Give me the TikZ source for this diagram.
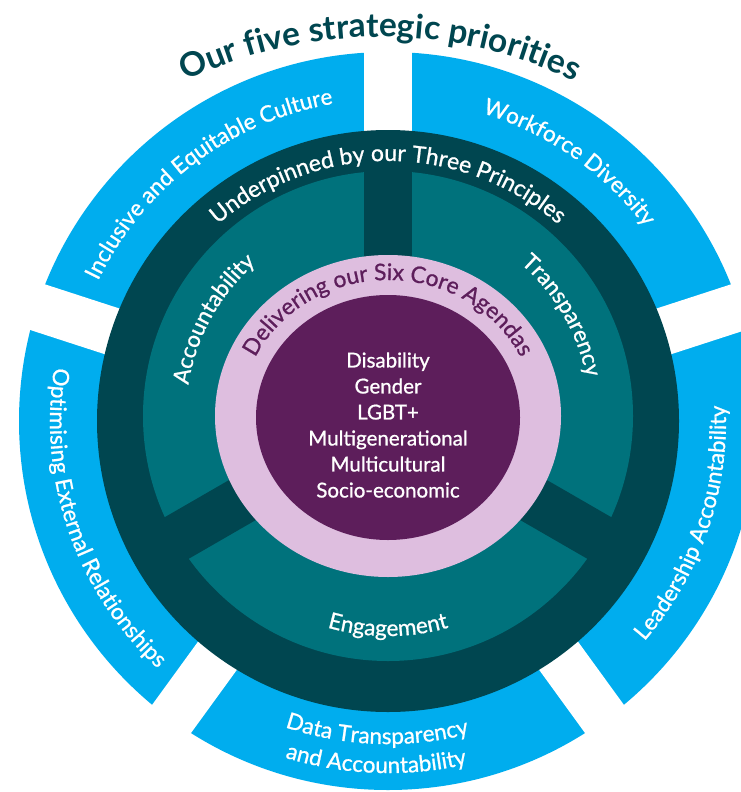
\documentclass[tikz,border=0pt]{standalone}
\usepackage{fontspec}
\setmainfont{Lato}
\newfontfamily\labelfont{Lato}[FakeBold=0.9]
\usetikzlibrary{calc,decorations.text}

\definecolor{skyblue}{RGB}{0,173,238}
\definecolor{deepteal}{RGB}{0,70,80}
\definecolor{midteal}{RGB}{0,114,124}
\definecolor{lilac}{RGB}{222,190,223}
\definecolor{plum}{RGB}{93,30,91}

% text set along a circular arc: centre, radius, start, end, format, text
\newcommand\bendtext[6]{%
  \path[decorate, decoration={text along path, text align=center,
      text={|#5|#6}}]
    ($(#1)+(#3:#2)$) arc[start angle=#3, end angle=#4, radius=#2];}
% the same along an elliptical arc: centre, x radius, y radius, start, end, format, text
\newcommand\ovaltext[7]{%
  \path[decorate, decoration={text along path, text align=center,
      text={|#6|#7}}]
    ($(#1)+(#4:#2 and #3)$) arc[start angle=#4, end angle=#5, x radius=#2, y radius=#3];}

\tikzset{
  gapbar/.style={fill=white},
  spokebar/.style={fill=deepteal},
}

\begin{document}
\begin{tikzpicture}[x=1pt,y=1pt]
  \useasboundingbox (0,0) rectangle (741,-792);
  \fill[white] (0,0) rectangle (741,-792);

  \coordinate (O) at (388,-421);   % centre of the outer rings
  \coordinate (Oi) at (388,-416);  % centre of the inner rings
  \coordinate (T) at (380,-487);   % centre of the heading arc

  % outer ring of five priorities, split by white gaps
  \fill[skyblue] (O) circle[radius=369];
  \foreach \a in {18,90,162,234,306}{
    \begin{scope}[shift={(O)}, rotate=\a]
      \fill[gapbar] (0,-24) rectangle (400,24);
    \end{scope}}

  % ring of the three principles
  \fill[deepteal] (O) circle[radius=291];
  \fill[midteal] (Oi) circle[radius=245];
  \foreach \a in {90,210,330}{
    \begin{scope}[shift={(Oi)}, rotate=\a]
      \fill[spokebar] (0,-24) rectangle (262,24);
    \end{scope}}

  % core agendas
  \fill[lilac] (Oi) ellipse[x radius=173, y radius=161];
  \fill[plum] (388,-417.5) ellipse[x radius=132, y radius=122.5];

  \node[name=agendas, text=white, align=center,
        font=\labelfont\fontsize{20.5}{26}\selectfont] at (388,-425)
    {Disability\\Gender\\LGBT+\\Multigenerational\\Multicultural\\Socio-economic};

  % heading
  \bendtext{T}{450}{125}{55}{\bfseries\fontsize{33.5}{40}\selectfont\color{deepteal}}{Our five strategic priorities}

  % five priorities
  \bendtext{O}{322}{197}{57}{\labelfont\fontsize{22.5}{26}\selectfont\color{white}}{Inclusive and Equitable Culture}
  \bendtext{O}{322}{125}{-15}{\labelfont\fontsize{22.5}{26}\selectfont\color{white}}{Workforce Diversity}
  \bendtext{O}{338}{129}{269}{\labelfont\fontsize{22.5}{26}\selectfont\color{white}}{Optimising External Relationships}
  \bendtext{O}{338}{-89}{51}{\labelfont\fontsize{22.5}{26}\selectfont\color{white}}{Leadership Accountability}
  \bendtext{O}{323}{208}{328}{\labelfont\fontsize{22.5}{26}\selectfont\color{white}}{Data Transparency}
  \bendtext{O}{352}{208}{328}{\labelfont\fontsize{22.5}{26}\selectfont\color{white}}{and Accountability}

  % three principles
  \bendtext{O}{260}{160}{20}{\labelfont\fontsize{23}{27}\selectfont\color{white}}{Underpinned by our Three Principles}
  \bendtext{Oi}{202}{211}{91}{\labelfont\fontsize{22.5}{26}\selectfont\color{white}}{Accountability}
  \bendtext{Oi}{202}{90}{-30}{\labelfont\fontsize{22.5}{26}\selectfont\color{white}}{Transparency}
  \bendtext{Oi}{220}{210}{330}{\labelfont\fontsize{22.5}{26}\selectfont\color{white}}{Engagement}

  % six core agendas heading
  \ovaltext{Oi}{147}{136}{175}{5}{\labelfont\fontsize{22.8}{24}\selectfont\color{plum}}{Delivering our Six Core Agendas}
\end{tikzpicture}
\end{document}
